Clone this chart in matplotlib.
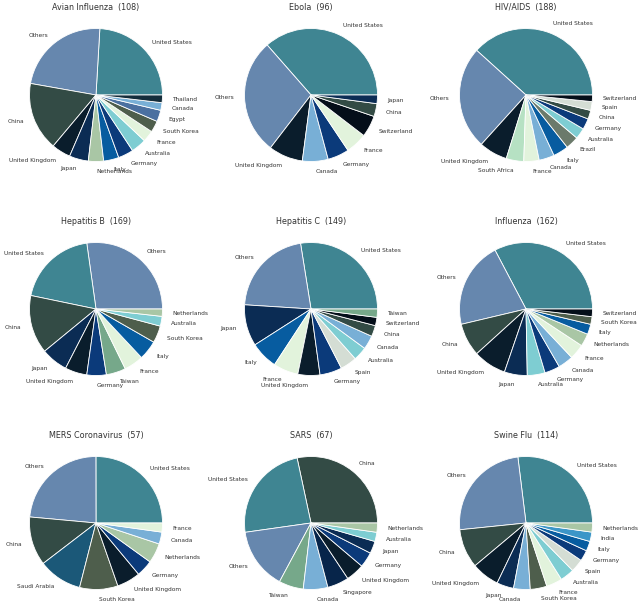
import matplotlib
matplotlib.use("Agg")
import matplotlib.pyplot as plt

# ---------------- data ----------------
avian_title = "Avian Influenza  (108)"
avian_labels = ["United States", "Others", "China", "United Kingdom", "Japan", "Netherlands",
                "Italy", "Germany", "Australia", "France", "South Korea", "Egypt", "Canada", "Thailand"]
avian_values = [26, 25, 18, 5, 5, 4, 4, 4, 4, 3, 3, 3, 2, 2]

ebola_title = "Ebola  (96)"
ebola_labels = ["United States", "Others", "United Kingdom", "Canada", "Germany", "France",
                "Switzerland", "China", "Japan"]
ebola_values = [35, 27, 8, 6, 5, 5, 5, 3, 2]

hiv_title = "HIV/AIDS  (188)"
hiv_labels = ["United States", "Others", "United Kingdom", "South Africa", "France", "Canada",
              "Italy", "Brazil", "Australia", "Germany", "China", "Spain", "Switzerland"]
hiv_values = [72, 47, 13, 8, 7, 7, 7, 6, 5, 5, 4, 4, 3]

hepb_title = "Hepatitis B  (169)"
hepb_labels = ["Others", "United States", "China", "Japan", "United Kingdom", "Germany", "Taiwan",
               "France", "Italy", "South Korea", "Australia", "Netherlands"]
hepb_values = [46, 33, 24, 11, 9, 8, 8, 8, 8, 7, 4, 3]

hepc_title = "Hepatitis C  (149)"
hepc_labels = ["United States", "Others", "Japan", "Italy", "France", "United Kingdom", "Germany",
               "Spain", "Australia", "Canada", "China", "Switzerland", "Taiwan"]
hepc_values = [41, 32, 15, 10, 9, 8, 8, 6, 5, 5, 4, 3, 3]

flu_title = "Influenza  (162)"
flu_labels = ["United States", "Others", "China", "United Kingdom", "Japan", "Australia", "Germany",
              "Canada", "France", "Netherlands", "Italy", "South Korea", "Switzerland"]
flu_values = [53, 34, 13, 13, 9, 7, 6, 6, 6, 5, 4, 3, 3]

mers_title = "MERS Coronavirus  (57)"
mers_labels = ["United States", "Others", "China", "Saudi Arabia", "South Korea", "United Kingdom",
               "Germany", "Netherlands", "Canada", "France"]
mers_values = [14.25, 13.4, 6.75, 6.05, 5.3, 3.25, 2.3, 2.75, 1.65, 1.25]

sars_title = "SARS  (67)"
sars_labels = ["China", "United States", "Others", "Taiwan", "Canada", "Singapore", "United Kingdom",
               "Germany", "Japan", "Australia", "Netherlands"]
sars_values = [19, 16, 10, 4, 4, 3.5, 3, 2.5, 2, 1.5, 1.5]

swine_title = "Swine Flu  (114)"
swine_labels = ["United States", "Others", "China", "United Kingdom", "Japan", "Canada", "South Korea",
                "France", "Australia", "Spain", "Germany", "Italy", "India", "Netherlands"]
swine_values = [30.7, 28.1, 10.8, 7.7, 4.7, 4.6, 4.6, 4.4, 3.9, 3.6, 3.0, 2.7, 2.6, 2.5]

# ---------------- style ----------------
country_colors = {
    "United States": "#3f8592",
    "Others": "#6687ae",
    "China": "#334b45",
    "United Kingdom": "#0a1d2c",
    "Japan": "#0b2c54",
    "Germany": "#0b3a7a",
    "Canada": "#78afd6",
    "France": "#e2f3dc",
    "Australia": "#7ecdd2",
    "Italy": "#075ca0",
    "Netherlands": "#a9c6a5",
    "South Korea": "#4e5e4c",
    "Egypt": "#4b70a0",
    "Thailand": "#142d3b",
    "Switzerland": "#040e19",
    "Spain": "#d4ddd4",
    "Brazil": "#6b7a6b",
    "South Africa": "#b6e1c3",
    "Taiwan": "#76a88a",
    "Saudi Arabia": "#1b5878",
    "Singapore": "#07254a",
    "India": "#3c96c8",
}

charts = [
    (avian_title, avian_labels, avian_values),
    (ebola_title, ebola_labels, ebola_values),
    (hiv_title, hiv_labels, hiv_values),
    (hepb_title, hepb_labels, hepb_values),
    (hepc_title, hepc_labels, hepc_values),
    (flu_title, flu_labels, flu_values),
    (mers_title, mers_labels, mers_values),
    (sars_title, sars_labels, sars_values),
    (swine_title, swine_labels, swine_values),
]

W, H = 642, 612
fig = plt.figure(figsize=(W / 100, H / 100), dpi=100)
fig.patch.set_facecolor("white")

col_cx = [96, 311, 526]
row_cy = [95, 309, 523]
R = 66.5          # pie radius in px
half = 1.5        # axes half-extent in data units

for i, (title, labels, values) in enumerate(charts):
    cx = col_cx[i % 3]
    cy = row_cy[i // 3]
    size = 2 * half * R
    ax = fig.add_axes([(cx - size / 2) / W, 1 - (cy + size / 2) / H, size / W, size / H])
    cols = [country_colors[l] for l in labels]
    wedges, texts = ax.pie(values, labels=labels, colors=cols, startangle=0,
                           counterclock=True, labeldistance=1.15,
                           wedgeprops=dict(edgecolor="white", linewidth=0.6),
                           textprops=dict(fontsize=4.25, color="#333333"))
    ax.set_xlim(-half, half)
    ax.set_ylim(-half, half)
    ax.set_aspect("equal")
    ax.axis("off")
    ax.text(0, 1.31, title, ha="center", va="center", fontsize=5.8, color="#333333")

fig.savefig("out.png", dpi=100)
